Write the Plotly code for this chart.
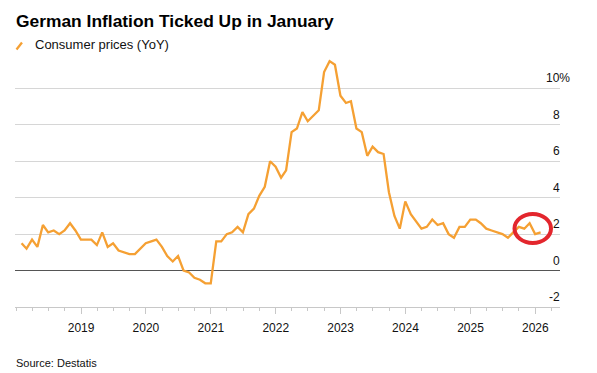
import plotly.graph_objects as go
import pandas as pd

# Monthly CPI YoY (%), Jan 2018 .. Jan 2026, plotted at month end
months = pd.date_range("2018-01-31", "2026-01-31", freq="ME")
cpi_2018 = [1.5, 1.2, 1.7, 1.3, 2.5, 2.1, 2.2, 2.0, 2.2, 2.6, 2.2, 1.7]
cpi_2019 = [1.7, 1.7, 1.4, 2.1, 1.3, 1.5, 1.1, 1.0, 0.9, 0.9, 1.2, 1.5]
cpi_2020 = [1.6, 1.7, 1.3, 0.8, 0.5, 0.8, 0.0, -0.1, -0.4, -0.5, -0.7, -0.7]
cpi_2021 = [1.6, 1.6, 2.0, 2.1, 2.4, 2.1, 3.1, 3.4, 4.1, 4.6, 6.0, 5.7]
cpi_2022 = [5.1, 5.5, 7.6, 7.8, 8.7, 8.2, 8.5, 8.8, 10.9, 11.5, 11.3, 9.6]
cpi_2023 = [9.2, 9.3, 7.8, 7.6, 6.3, 6.8, 6.5, 6.4, 4.3, 3.0, 2.3, 3.8]
cpi_2024 = [3.1, 2.7, 2.3, 2.4, 2.8, 2.5, 2.6, 2.0, 1.8, 2.4, 2.4, 2.8]
cpi_2025 = [2.8, 2.6, 2.3, 2.2, 2.1, 2.0, 1.8, 2.1, 2.4, 2.3, 2.6, 2.0]
cpi_2026 = [2.1]
cpi = cpi_2018 + cpi_2019 + cpi_2020 + cpi_2021 + cpi_2022 + cpi_2023 + cpi_2024 + cpi_2025 + cpi_2026

y_ticks = [-2, 0, 2, 4, 6, 8, 10]
y_tick_labels = ["-2", "0", "2", "4", "6", "8", "10%"]
x_ticks = ["2019-01-01", "2020-01-01", "2021-01-01", "2022-01-01",
           "2023-01-01", "2024-01-01", "2025-01-01", "2026-01-01"]
x_tick_labels = ["2019", "2020", "2021", "2022", "2023", "2024", "2025", "2026"]

ORANGE = "#F5A033"
FONT = "Liberation Sans, Arial, sans-serif"

fig = go.Figure()
fig.add_trace(go.Scatter(
    x=months, y=cpi, mode="lines",
    line=dict(color=ORANGE, width=2.3),
    hoverinfo="skip", showlegend=False,
))

fig.update_layout(
    width=597, height=373,
    margin=dict(l=15, r=37, t=52, b=66),
    paper_bgcolor="white", plot_bgcolor="white",
    font=dict(family=FONT, color="#111", size=12),
    xaxis=dict(
        range=["2017-12-25", "2026-05-20"],
        tickmode="array", tickvals=x_ticks, ticktext=x_tick_labels,
        ticks="outside", ticklen=6, tickcolor="#c8c8c8", tickwidth=1,
        ticklabelstandoff=4,
        showline=True, linecolor="#c8c8c8", linewidth=1,
        showgrid=False, zeroline=False,
        tickfont=dict(size=12, color="#111"),
        minor=dict(dtick="M3", tick0="2018-01-01", ticks="outside",
                   ticklen=3, tickcolor="#c8c8c8", showgrid=False),
    ),
    yaxis=dict(
        range=[-2, 12],
        tickmode="array", tickvals=[2, 4, 6, 8, 10],
        showticklabels=False, ticks="",
        showgrid=True, gridcolor="#d6d6d6", gridwidth=1,
        zeroline=True, zerolinecolor="#555555", zerolinewidth=1,
        showline=False,
    ),
)

# y tick labels sitting above the gridlines at the right end
for v, lab in zip(y_ticks, y_tick_labels):
    fig.add_annotation(
        xref="paper", yref="y", x=1, y=v, text=lab,
        xanchor="right", yanchor="bottom",
        xshift=12 if lab.endswith("%") else 2, yshift=1,
        showarrow=False, font=dict(size=12, color="#111"),
    )

# title
fig.add_annotation(
    xref="paper", yref="paper", x=0, y=(307 - 20.5) / 255, xanchor="left", yanchor="middle",
    text="<b>German Inflation Ticked Up in January</b>",
    showarrow=False, font=dict(size=17.4, color="#000"), xshift=-1,
)
# legend
fig.add_shape(type="line", xref="paper", yref="paper",
              x0=(16.5 - 15) / 545, x1=(22 - 15) / 545,
              y0=(307 - 49.5) / 255, y1=(307 - 42.5) / 255,
              line=dict(color=ORANGE, width=2.3))
fig.add_annotation(
    xref="paper", yref="paper", x=(32.5 - 15) / 545, y=(307 - 44.5) / 255,
    xanchor="left", yanchor="middle", text="Consumer prices (YoY)",
    showarrow=False, font=dict(size=13, color="#111"),
)
# source
fig.add_annotation(
    xref="paper", yref="paper", x=0, y=(307 - 362.7) / 255,
    xanchor="left", yanchor="middle", text="Source: Destatis",
    showarrow=False, font=dict(size=11, color="#111"), xshift=-1,
)
# red highlight circle
fig.add_shape(type="circle", xref="paper", yref="paper",
              x0=(514.5 - 15) / 545, x1=(551 - 15) / 545,
              y0=(307 - 243) / 255, y1=(307 - 214) / 255,
              line=dict(color="#E3262D", width=4))

fig.write_html("out.html", config={"displayModeBar": False},
               post_script="document.body.style.margin='0';")
